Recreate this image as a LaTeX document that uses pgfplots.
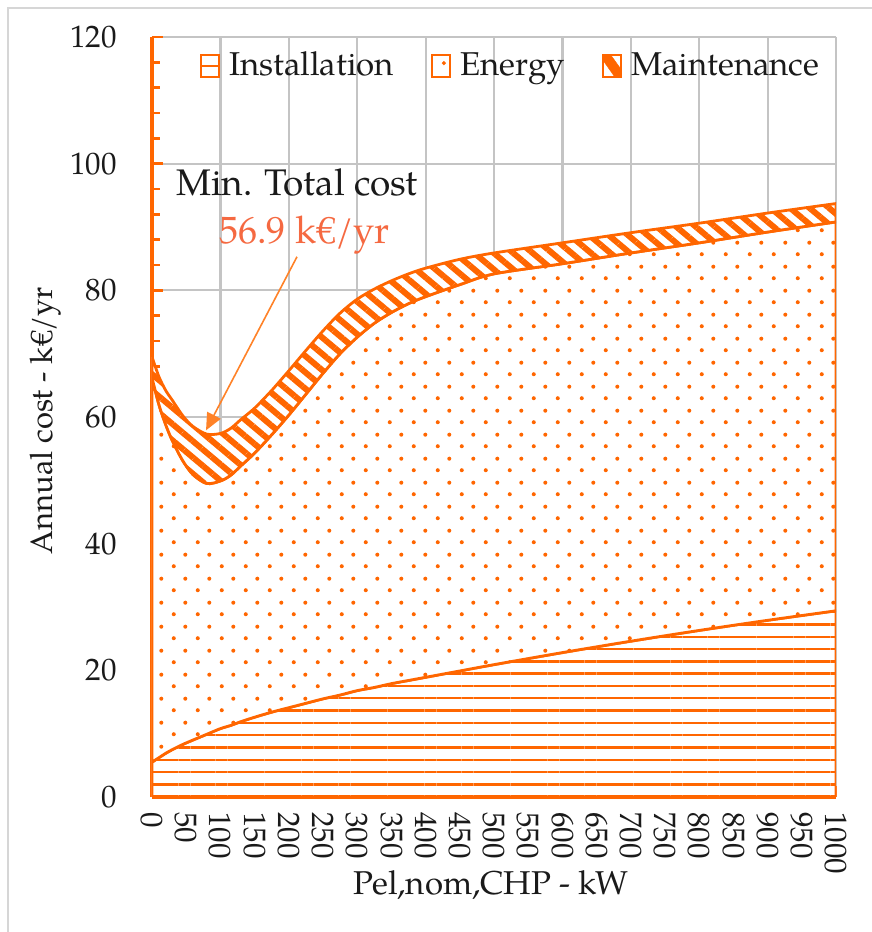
\documentclass[border=0pt]{standalone}
\usepackage{fontspec}
\setmainfont{TeX Gyre Pagella}
\usepackage{pgfplots}
\usepackage{pgfplotstable}
\pgfplotsset{compat=1.18}
\usepgfplotslibrary{fillbetween}
\usetikzlibrary{patterns.meta, arrows.meta}
\definecolor{orangeC}{HTML}{FF6600}
\definecolor{gridC}{HTML}{C4C4C4}
\definecolor{annotC}{RGB}{245,105,65}
\definecolor{arrowC}{RGB}{255,130,40}
\definecolor{textC}{HTML}{1A1A1A}

\pgfdeclarepattern{
  name=stagdots,
  type=uncolored,
  bottom left={\pgfpoint{0pt}{0pt}},
  top right={\pgfpoint{24pt}{24pt}},
  tile size={\pgfpoint{24pt}{24pt}},
  code={
    \pgfpathcircle{\pgfpoint{6pt}{6pt}}{2.1pt}
    \pgfpathcircle{\pgfpoint{18pt}{18pt}}{2.1pt}
    \pgfusepath{fill}
  }
}

\pgfplotstableread{
x inst energy total
0 5.5 66.2 69.5
10 6.2 62.0 66.4
20 6.9 58.8 64.2
30 7.5 56.2 62.6
45 8.3 53.1 60.2
60 9.0 50.9 58.5
80 9.9 49.5 57.3
100 10.8 49.9 57.4
115 11.3 50.8 58.2
130 11.9 52.3 59.6
150 12.6 54.3 61.4
175 13.4 57.2 64.2
200 14.1 60.3 67.3
225 14.8 63.6 70.5
250 15.5 66.9 73.6
275 16.1 70.0 76.4
300 16.8 72.6 78.6
325 17.3 74.8 80.2
350 17.9 76.5 81.5
375 18.4 77.9 82.6
400 18.9 79.0 83.5
450 19.9 80.9 84.9
500 20.9 82.6 85.9
600 22.8 84.2 87.5
700 24.6 85.9 89.1
800 26.3 87.5 90.6
900 27.9 89.2 92.2
1000 29.4 90.8 93.7
}\costdata

\begin{document}
\fontsize{30}{36}\selectfont
\begin{tikzpicture}
\draw[gridC!70, line width=2pt] (-144pt,-135pt) -- (-144pt,789pt) -- (720pt,789pt);
\begin{axis}[
  at={(0pt,0pt)}, anchor=south west,
  scale only axis, width=684pt, height=760pt,
  xmin=0, xmax=1000, ymin=0, ymax=120,
  axis lines*=left,
  axis line style={orangeC, line width=3.5pt},
  xtick={0,50,...,1000}, ytick={0,20,...,120},
  minor y tick num=4,
  tick align=inside,
  major tick length=11pt, minor tick length=8pt,
  tick style={orangeC, line width=2.5pt},
  ymajorgrids=true,
  extra x ticks={100,200,...,1000}, extra x tick labels={},
  extra x tick style={grid=major, major tick length=0pt},
  major grid style={gridC, line width=2.2pt},
  /pgf/number format/assume math mode=true,
  /pgf/number format/1000 sep={},
  tick label style={font=\fontsize{31}{36}\selectfont, text=textC},
  yticklabel style={anchor=east, inner sep=0pt, xshift=-35pt},
  xticklabel style={yshift=-15pt, rotate=-90, anchor=west, inner sep=0pt},
  label style={font=\fontsize{33}{38}\selectfont, text=textC},
  xlabel={Pel,nom,CHP - kW},
  ylabel={Annual cost - k€/yr},
  xlabel style={at={(axis description cs:0.496,-0.116)}, anchor=center},
  ylabel style={at={(axis description cs:-0.156,0.495)}, anchor=center, font=\fontsize{31}{36}\selectfont},
  legend columns=3,
  legend cell align=left,
  legend style={draw=none, fill=none, at={(axis cs:70,115.4)}, anchor=west,
    inner sep=0pt, font=\fontsize{33}{38}\selectfont, text=textC,
    nodes={inner sep=0pt},
    /tikz/every odd column/.append style={column sep=9pt},
    /tikz/every even column/.append style={column sep=37pt}},
]
\addplot[draw=none, name path=base, forget plot] coordinates {(0,0) (1000,0)};
\addplot[draw=none, name path=inst, smooth, forget plot] table[x=x,y=inst]{\costdata};
\addplot[draw=none, name path=energy, smooth, forget plot] table[x=x,y=energy]{\costdata};
\addplot[draw=none, name path=total, smooth, forget plot] table[x=x,y=total]{\costdata};

\addplot[fill=white, draw=orangeC, line width=2.8pt, forget plot,
  postaction={pattern={Lines[angle=0,distance=12.3pt,line width=2.4pt]}, pattern color=orangeC}]
  fill between[of=inst and base];
\addplot[fill=white, draw=orangeC, line width=2.8pt, forget plot,
  postaction={pattern=stagdots, pattern color=orangeC}]
  fill between[of=energy and inst];
\addplot[fill=white, draw=orangeC, line width=2.8pt, forget plot,
  postaction={pattern={Lines[angle=-40,distance=12.5pt,line width=6pt]}, pattern color=orangeC}]
  fill between[of=total and energy];

\addlegendimage{legend image code/.code={
  \draw[orangeC, line width=2.4pt, fill=white] (0pt,-11pt) rectangle (18pt,11pt);
  \draw[orangeC, line width=2.4pt] (0pt,0pt) -- (18pt,0pt);}}
\addlegendentry{Installation}
\addlegendimage{legend image code/.code={
  \draw[orangeC, line width=2.4pt, fill=white] (0pt,-11pt) rectangle (18pt,11pt);
  \fill[orangeC] (12pt,3pt) circle (1.9pt);}}
\addlegendentry{Energy}
\addlegendimage{legend image code/.code={
  \draw[orangeC, line width=2.4pt, fill=white] (0pt,-11pt) rectangle (18pt,11pt);
  \fill[orangeC] (0pt,11pt) -- (8pt,11pt) -- (18pt,-3pt) -- (18pt,-11pt) -- (12pt,-11pt) -- (0pt,6pt) -- cycle;}}
\addlegendentry{Maintenance}

\node[text=textC, font=\fontsize{37}{42}\selectfont] at (axis cs:212,97) {Min. Total cost};
\node[text=annotC, font=\fontsize{38}{44}\selectfont] at (axis cs:223,88.8) {56.9 k€/yr};
\draw[arrowC, line width=1.6pt, -{Triangle[length=17pt,width=15pt]}] (axis cs:212,85.3) -- (axis cs:79,57.9);
\end{axis}
\pgfresetboundingbox
\path[use as bounding box] (-152pt,-135pt) rectangle (720pt,797pt);
\end{tikzpicture}
\end{document}
